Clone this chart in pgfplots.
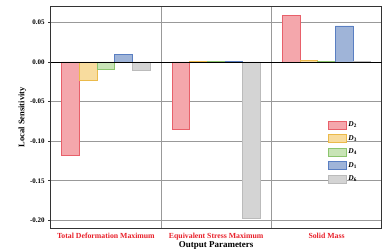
\documentclass[border=0pt]{standalone}
\usepackage{pgfplots}
\pgfplotsset{compat=1.18}
\usepackage{fontspec}
\setmainfont{Liberation Serif}
\definecolor{rfill}{HTML}{F4A7AC}\definecolor{rdraw}{HTML}{E8606A}
\definecolor{yfill}{HTML}{F8DC9E}\definecolor{ydraw}{HTML}{EBBA4A}
\definecolor{gfill}{HTML}{C8E4B6}\definecolor{gdraw}{HTML}{8CC56E}
\definecolor{bfill}{HTML}{9FB4D8}\definecolor{bdraw}{HTML}{5A7FC2}
\definecolor{kfill}{HTML}{D4D4D4}\definecolor{kdraw}{HTML}{BBBBBB}
\definecolor{lred}{HTML}{E8202A}
\newcommand{\Dv}[1]{\textbf{\textit{D}\textsubscript{#1}}}
\begin{document}
\begin{tikzpicture}
\begin{axis}[
  at={(0,0)}, anchor=south west,
  scale only axis, width=331bp, height=221.3bp,
  xmin=-0.5, xmax=2.5, ymin=-0.2096, ymax=0.0698,
  ybar=0pt, bar width=0.16,
  axis line style={draw=black!80, line width=0.8pt},
  xtick={0,1,2},
  xticklabels={Total Deformation Maximum, Equivalent Stress Maximum, Solid Mass},
  xticklabel style={font=\bfseries\fontsize{7.8}{9}\selectfont, text=lred, yshift=1pt},
  major x tick style={draw=none},
  extra x ticks={0.5,1.5},
  extra x tick labels={},
  extra x tick style={grid=major, major tick length=3pt, tick style={black!80, line width=0.8pt}},
  ytick={-0.2,-0.15,-0.1,-0.05,0,0.05},
  ymajorgrids,
  grid style={draw=black!40, line width=0.7pt},
  tick pos=left, tick align=outside, major tick length=2.5pt,
  y tick style={black!80, line width=0.7pt},
  /pgf/number format/assume math mode=true,
  yticklabel style={font=\bfseries\fontsize{7}{8}\selectfont, /pgf/number format/.cd, fixed, fixed zerofill, precision=2},
  ylabel={\bfseries Local Sensitivity},
  ylabel style={font=\fontsize{8.5}{9}\selectfont, yshift=-3pt},
  xlabel={\bfseries Output Parameters},
  xlabel style={font=\fontsize{9}{10}\selectfont, yshift=10.5pt},
  legend style={at={(0.935,0.343)}, anchor=east, draw=none, fill=none,
    font=\fontsize{7.5}{8}\selectfont, row sep=3.2pt, inner sep=1pt},
  legend image code/.code={\draw[#1, line width=0.7pt] (0pt,-4pt) rectangle (18pt,4pt);},
  legend cell align=left,
]
\addplot[fill=rfill, draw=rdraw, line width=0.6pt] coordinates {(0,-0.1174) (1,-0.0846) (2,0.0590)};
\addplot[fill=yfill, draw=ydraw, line width=0.6pt] coordinates {(0,-0.0227) (1,0.0010) (2,0.0025)};
\addplot[fill=gfill, draw=gdraw, line width=0.6pt] coordinates {(0,-0.0092) (1,0.0005) (2,0.0005)};
\addplot[fill=bfill, draw=bdraw, line width=0.6pt] coordinates {(0,0.0097) (1,0.0010) (2,0.0455)};
\addplot[fill=kfill, draw=kdraw, line width=0.6pt] coordinates {(0,-0.0105) (1,-0.1974) (2,0.0005)};
\legend{\Dv{2},\Dv{3},\Dv{4},\Dv{1},\Dv{6}}
\draw[black, line width=0.9pt] (axis cs:-0.5,0) -- (axis cs:2.5,0);
\end{axis}
\pgfresetboundingbox
\path (-50.7bp,-21bp) rectangle (337.3bp,228bp);
\end{tikzpicture}
\end{document}
